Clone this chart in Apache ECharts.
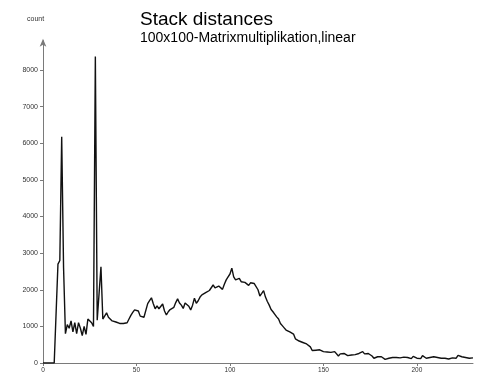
<!DOCTYPE html>
<html>
<head>
<meta charset="utf-8">
<script src="https://cdn.jsdelivr.net/npm/echarts@6/dist/echarts.min.js"></script>
<style>html,body{margin:0;padding:0;background:#fff}#c{width:477px;height:374px}</style>
</head>
<body>
<div id="c"></div>
<script>
const titleText = "Stack distances";
const subtitleText = "100x100-Matrixmultiplikation,linear";
const yAxisName = "count";
// stack distance 0..230 (one value per distance)
const counts = [
  0,0,0,0,0,0,0,0,2700,2800,
  6180,2600,800,1050,950,1150,850,1100,800,1100,
  950,750,1000,780,1200,1150,1100,1000,8370,1170,
  1180,2630,1200,1250,1370,1250,1220,1150,1180,1120,
  1130,1080,1100,1080,1130,1100,1200,1300,1380,1450,
  1460,1420,1280,1260,1250,1230,1620,1700,1780,1620,
  1480,1560,1480,1470,1610,1420,1310,1400,1460,1420,
  1520,1650,1750,1640,1580,1490,1640,1680,1550,1450,
  1580,1770,1630,1700,1800,1860,1880,1920,1960,1980,
  1960,2130,2050,2040,2100,2070,2010,2150,2270,2350,
  2430,2590,2350,2270,2280,2310,2220,2180,2200,2150,
  2120,2190,2180,2170,2160,2000,1830,1900,1975,1800,
  1680,1580,1460,1400,1330,1260,1200,1080,1020,960,
  900,880,850,830,790,660,640,600,590,560,
  560,520,480,440,340,380,350,350,360,330,
  310,280,300,320,290,300,310,260,190,250,
  230,260,270,200,250,220,270,230,210,260,
  240,310,250,200,260,220,190,130,160,170,
  190,170,140,100,150,130,110,150,130,150,
  120,140,130,160,110,150,130,120,180,140,
  130,170,120,200,150,130,110,150,130,170,
  120,150,190,130,100,130,140,110,160,140,
  120,130,210,200,170,180,150,170,130,150,
  140
];
const xTicks = [0, 50, 100, 150, 200];
const yTicks = [0, 1000, 2000, 3000, 4000, 5000, 6000, 7000, 8000];

const chart = echarts.init(document.getElementById('c'), null, {renderer: 'canvas'});
const axisGray = '#7a7a7a';
chart.setOption({
  animation: false,
  backgroundColor: '#fff',
  title: [
    {text: titleText, left: 140, top: 10, padding: 0, textStyle: {fontFamily: 'Liberation Sans, Arial, sans-serif', fontSize: 19, fontWeight: 'normal', color: '#000'}},
    {text: subtitleText, left: 140, top: 31, padding: 0, textStyle: {fontFamily: 'Liberation Sans, Arial, sans-serif', fontSize: 14, fontWeight: 'normal', color: '#000'}}
  ],
  graphic: [
    {type: 'text', left: 27, top: 16, style: {text: yAxisName, font: '7px "Liberation Sans", Arial, sans-serif', fill: '#333'}}
  ],
  grid: {left: 43, right: 4, top: 40.7, bottom: 11, containLabel: false},
  xAxis: {
    type: 'value', min: 0, max: 230, interval: 50,
    axisLine: {lineStyle: {color: axisGray, width: 1}},
    axisTick: {show: true, length: 3, lineStyle: {color: axisGray}},
    axisLabel: {fontSize: 6.5, color: '#333', margin: 4, showMaxLabel: false,
      formatter: v => xTicks.includes(v) ? String(v) : ''},
    splitLine: {show: false}
  },
  yAxis: {
    type: 'value', min: 0, max: 8800, interval: 1000,
    axisLine: {show: true, symbol: ['none', 'arrow'], symbolSize: [5, 8], symbolOffset: [0, 2], lineStyle: {color: axisGray, width: 1}},
    axisTick: {show: true, length: 3, lineStyle: {color: axisGray}},
    axisLabel: {fontSize: 7, color: '#333', margin: 5, showMaxLabel: false,
      formatter: v => yTicks.includes(v) ? String(v) : ''},
    splitLine: {show: false}
  },
  series: [{
    type: 'line',
    data: counts.map((v, i) => [i, v]),
    showSymbol: false,
    lineStyle: {color: '#111', width: 1.4},
    smooth: false
  }]
});
</script>
</body>
</html>
